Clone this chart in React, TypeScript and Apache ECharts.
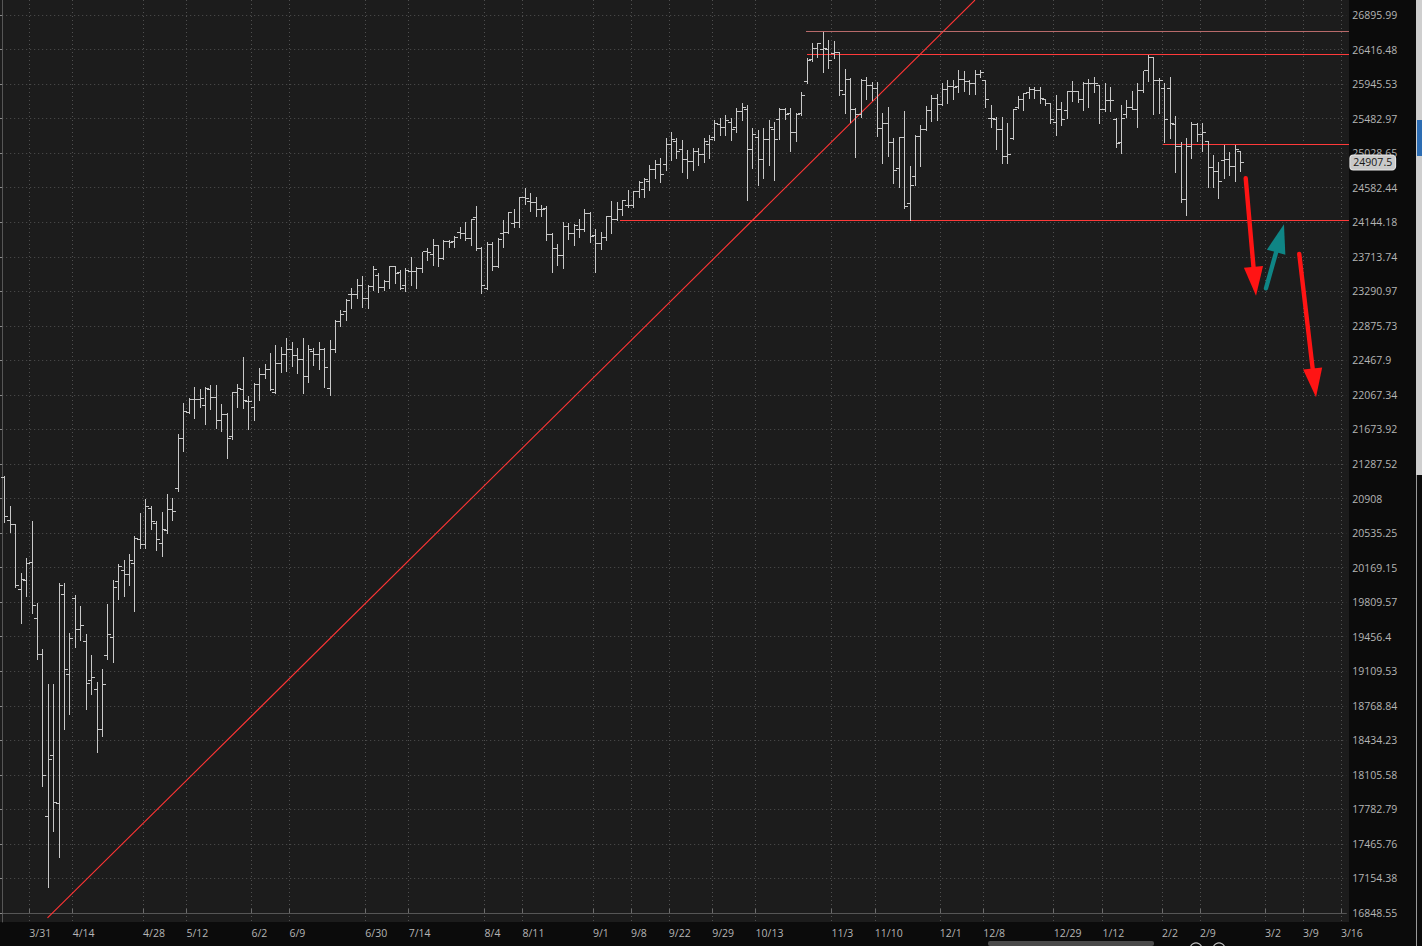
import React, { useEffect, useRef } from "react";
import * as echarts from "echarts";

// ---------- tick labels ----------
const Y_LABELS = [
  "26895.99", "26416.48", "25945.53", "25482.97", "25028.65", "24582.44", "24144.18",
  "23713.74", "23290.97", "22875.73", "22467.9", "22067.34", "21673.92", "21287.52",
  "20908", "20535.25", "20169.15", "19809.57", "19456.4", "19109.53", "18768.84",
  "18434.23", "18105.58", "17782.79", "17465.76", "17154.38", "16848.55",
];
const X_LABELS = [
  "3/31", "4/14", "4/28", "5/12", "6/2", "6/9", "6/30", "7/14", "8/4", "8/11", "9/1", "9/8",
  "9/22", "9/29", "10/13", "11/3", "11/10", "12/1", "12/8", "12/29", "1/12", "2/2", "2/9",
  "3/2", "3/9", "3/16",
];
const X_LABEL_SLOT = [
  5, 13, 26, 34, 46, 53, 67, 75, 89, 96, 109, 116, 123, 131, 139, 153, 161, 173, 181, 194,
  203, 214, 221, 233, 240, 247,
];
const SLOT_COUNT = 249;

// ---------- OHLC values ----------
const OPEN = [
  21141, 20665, 20622, 19943, 20030, 20226, 19645, 19280, 17719, 18285,
  17838, 19891, 19079, 19850, 19525, 19406, 19013, 18924, 18534, 19270,
  19450, 20022, 20144, 20102, 20215, 20462, 20409, 20802, 20633, 20427,
  20558, 20784, 21020, 21576, 21864, 22017, 22010, 21941, 22133, 22040,
  21770, 21846, 21593, 22098, 22133, 21990, 21926, 22183, 22307, 22365,
  22097, 22426, 22532, 22591, 22520, 22473, 22275, 22568, 22532, 22591,
  22147, 22591, 22922, 23042, 23247, 23255, 23364, 23198, 23347, 23479,
  23335, 23410, 23592, 23524, 23367, 23528, 23528, 23573, 23773, 23736,
  23848, 23692, 23901, 23901, 24013, 24006, 23944, 24201, 23810, 23328,
  23860, 23592, 24005, 24013, 24130, 24143, 24455, 24404, 24397, 24299,
  24312, 23993, 23819, 23724, 24088, 24006, 24047, 24050, 24260, 23984,
  23881, 23951, 24214, 24181, 24299, 24354, 24354, 24531, 24553, 24656,
  24811, 24876, 24876, 25136, 25176, 25070, 24941, 24915, 25044, 25005,
  25136, 25228, 25399, 25360, 25438, 25360, 25571, 25598, 25070, 25228,
  24941, 25202, 25333, 25465, 25598, 25551, 25298, 25545, 25978, 26273,
  26433, 26419, 26419, 26365, 26373, 25809, 26001, 25598, 25531, 25988,
  25933, 25889, 25355, 25412, 25167, 24824, 25237, 24385, 24725, 25245,
  25342, 25589, 25756, 25666, 25876, 25911, 25911, 26001, 25978, 25947,
  26070, 25992, 25478, 25465, 25342, 24983, 25224, 25634, 25733, 25831,
  25866, 25857, 25742, 25688, 25429, 25598, 25589, 25844, 25844, 25733,
  25947, 25956, 25920, 25608, 25724, 25474, 25167, 25531, 25634, 25608,
  25857, 26124, 26310, 25988, 25889, 25889, 25399, 25114, 24426, 25114,
  25399, 25268, 25176, 24846, 24789, 24935, 24941, 24854, 25048,
];
const HIGH = [
  21156, 20827, 20630, 20110, 20268, 20665, 19798, 19333, 18983, 18983,
  20006, 20006, 19498, 19884, 19771, 19484, 19273, 19000, 19132, 19791,
  20040, 20208, 20250, 20314, 20505, 20748, 20903, 20827, 20665, 20759,
  20958, 20917, 21624, 21978, 22035, 22156, 22133, 22163, 22183, 22183,
  21964, 21857, 22105, 22195, 22508, 22058, 22203, 22376, 22426, 22556,
  22650, 22626, 22733, 22686, 22615, 22733, 22650, 22615, 22686, 22615,
  22709, 22946, 23066, 23198, 23328, 23438, 23475, 23367, 23604, 23512,
  23430, 23604, 23600, 23552, 23573, 23714, 23592, 23777, 23819, 23931,
  23860, 23922, 23922, 23972, 24088, 24151, 24190, 24350, 23839, 23901,
  23901, 23944, 24172, 24277, 24307, 24460, 24582, 24511, 24460, 24363,
  24350, 24006, 23872, 24151, 24130, 24122, 24181, 24307, 24270, 24056,
  24026, 24222, 24413, 24404, 24420, 24553, 24540, 24674, 24708, 24876,
  24941, 24967, 25228, 25307, 25228, 25202, 25070, 25097, 25097, 25228,
  25268, 25464, 25491, 25531, 25491, 25625, 25692, 25665, 25360, 25333,
  25360, 25464, 25438, 25621, 25621, 25621, 25562, 25844, 26297, 26503,
  26503, 26664, 26549, 26539, 26380, 26146, 26025, 25621, 26011, 26047,
  25978, 25978, 25562, 25634, 25224, 25245, 25587, 24867, 25268, 25399,
  25652, 25800, 25813, 25956, 26001, 26001, 26138, 26128, 26001, 26138,
  26138, 26001, 25666, 25508, 25508, 25421, 25615, 25786, 25830, 25903,
  25911, 25903, 25750, 25695, 25800, 25710, 25850, 25992, 25857, 25978,
  26011, 26047, 25933, 25956, 25911, 25487, 25666, 25733, 25857, 25956,
  26128, 26341, 26314, 26025, 25965, 26047, 25517, 25180, 25224, 25442,
  25421, 25421, 25185, 25005, 24919, 25135, 25048, 25135, 25061,
];
const LOW = [
  20658, 20550, 19970, 19594, 19877, 19696, 19229, 18004, 17076, 17587,
  17350, 18541, 18686, 19356, 19423, 18735, 18881, 18320, 18479, 19236,
  19206, 19839, 19877, 19988, 19723, 20374, 20374, 20579, 20356, 20296,
  20533, 20676, 20994, 21437, 21857, 21808, 21933, 21733, 21910, 21694,
  21660, 21351, 21568, 21933, 21922, 21679, 21782, 22009, 22260, 22124,
  22090, 22333, 22345, 22403, 22322, 22089, 22217, 22415, 22368, 22159,
  22066, 22568, 22874, 22946, 23087, 23207, 23099, 23087, 23307, 23279,
  23307, 23328, 23396, 23315, 23298, 23364, 23331, 23524, 23674, 23613,
  23604, 23683, 23831, 23831, 23944, 23922, 23860, 23798, 23274, 23315,
  23552, 23585, 23831, 24005, 24088, 24088, 24375, 24290, 24223, 24223,
  23922, 23531, 23613, 23580, 23935, 23860, 23963, 24040, 23901, 23524,
  23807, 23922, 24006, 24170, 24236, 24341, 24341, 24466, 24464, 24553,
  24708, 24656, 24811, 24941, 24967, 24785, 24708, 24811, 24876, 24915,
  24967, 25202, 25268, 25268, 25202, 25307, 25464, 24426, 24837, 24618,
  24708, 24876, 24682, 25215, 25474, 25061, 25192, 25531, 25965, 26264,
  26310, 26114, 26160, 26297, 25800, 25554, 25442, 24976, 25508, 25742,
  25733, 25254, 24898, 24992, 24639, 24595, 24321, 24172, 24618, 24863,
  25333, 25455, 25465, 25659, 25688, 25742, 25844, 25857, 25813, 25813,
  26038, 25644, 25377, 25079, 24898, 24906, 25215, 25625, 25598, 25756,
  25756, 25688, 25666, 25429, 25268, 25399, 25487, 25724, 25710, 25598,
  25634, 25844, 25421, 25585, 25589, 25114, 25027, 25508, 25605, 25368,
  25844, 25992, 25545, 25554, 25179, 25230, 24789, 24405, 24234, 24962,
  25193, 25061, 24595, 24595, 24448, 24705, 24747, 24673, 24803,
];
const CLOSE = [
  20712, 20622, 19981, 20040, 20215, 19771, 19273, 18104, 18247, 17848,
  19978, 19122, 19440, 19525, 19566, 18990, 19049, 18534, 18980, 19474,
  19964, 20179, 20102, 20240, 20473, 20409, 20820, 20658, 20470, 20576,
  20784, 20766, 21576, 21876, 22017, 22010, 22025, 22145, 22040, 21770,
  21839, 21576, 22098, 22144, 22009, 21995, 22183, 22307, 22365, 22133,
  22434, 22532, 22591, 22520, 22473, 22275, 22591, 22532, 22591, 22380,
  22591, 22922, 23006, 23178, 23255, 23364, 23198, 23347, 23552, 23335,
  23410, 23592, 23512, 23328, 23540, 23535, 23573, 23773, 23764, 23848,
  23692, 23901, 23895, 23951, 24006, 23944, 24181, 23810, 23367, 23860,
  23592, 23922, 24015, 24270, 24143, 24455, 24448, 24397, 24299, 24305,
  23993, 23819, 23724, 24088, 24006, 24109, 24055, 24260, 23963, 23881,
  23951, 24214, 24181, 24299, 24413, 24360, 24531, 24643, 24682, 24811,
  24876, 24747, 25136, 25202, 25044, 24941, 24915, 25044, 25005, 25176,
  25202, 25412, 25360, 25464, 25333, 25571, 25625, 25070, 25268, 24941,
  25202, 25360, 25202, 25598, 25541, 25298, 25531, 25786, 26269, 26433,
  26493, 26425, 26264, 26373, 25853, 26001, 25598, 25531, 25988, 25933,
  25889, 25355, 25412, 25167, 24802, 25237, 24341, 24608, 25245, 25342,
  25589, 25756, 25666, 25876, 25911, 25905, 26001, 25978, 25947, 26070,
  26101, 25733, 25485, 25342, 24983, 25005, 25608, 25742, 25822, 25866,
  25857, 25756, 25688, 25474, 25598, 25465, 25844, 25840, 25733, 25947,
  25956, 25947, 25608, 25724, 25730, 25150, 25487, 25634, 25608, 25857,
  26124, 26310, 25988, 25992, 25465, 25420, 25114, 24426, 25114, 25399,
  25268, 25294, 24846, 24789, 24656, 24945, 24854, 25079, 24907.5,
];
const LAST_PRICE = 24907.5;

// ---------- drawn annotations (slot units, prices) ----------
const LEVEL_PRICE = [26663, 26351, 24169, 25145];
const LEVEL_FROM = [148.3, 148.5, 113.9, 214.2];
const TREND_X = [8.36, 179.48];
const TREND_PRICE = [16805, 27106];
const ARROW_FROM_X = [229.43, 233.17, 239.31];
const ARROW_FROM_PRICE = [24703, 23328, 23748];
const ARROW_TO_X = [231.33, 236.49, 242.4];
const ARROW_TO_PRICE = [23238, 24118, 22040];

// ---------- styles / layout ----------
const LEVEL_COLORS = ["#b86a6a", "#ff3a3a", "#ff3a3a", "#ff3a3a"];
const ARROW_COLORS = ["#ff1414", "#0f8585", "#ff1414"];
const BAR_COLOR = "#c8c8c8";
const TEXT_COLOR = "#b5b5b5";
const FONT = "'Open Sans', 'Noto Sans', sans-serif";
const W = 1422;
const H = 946;
const GRID_LEFT = 2.2;
const GRID_RIGHT_EDGE = 1346.36;
const PLOT_BOTTOM = 922;
const TOP_TICK_Y = 15;
const BOTTOM_TICK_Y = 913;

const Y_BOTTOM = Number(Y_LABELS[Y_LABELS.length - 1]);
const Y_TOP = Number(Y_LABELS[0]);
const N_STEPS = Y_LABELS.length - 1;
const K_STEP = Math.log(Y_TOP / Y_BOTTOM) / N_STEPS;
const toK = (p: number) => Math.log(p / Y_BOTTOM) / K_STEP;
const PX_PER_K = (BOTTOM_TICK_Y - TOP_TICK_Y) / N_STEPS;
const Y_MIN = -(PLOT_BOTTOM - BOTTOM_TICK_Y) / PX_PER_K;
const Y_MAX = N_STEPS + TOP_TICK_Y / PX_PER_K;
const TICK_K = Y_LABELS.map((_, i) => N_STEPS - i);

const labelAt = new Map<number, string>();
X_LABEL_SLOT.forEach((s, i) => labelAt.set(s, X_LABELS[i]));
const showSlot = (index: number) => labelAt.has(index);

export default function App() {
  const ref = useRef<HTMLDivElement>(null);

  useEffect(() => {
    if (!ref.current) return;
    const chart = echarts.init(ref.current, undefined, { renderer: "svg" });

    const ohlcData = OPEN.map((o, i) => [i + 0.5, toK(o), toK(HIGH[i]), toK(LOW[i]), toK(CLOSE[i])]);
    const levelData = LEVEL_PRICE.map((p, i) => [LEVEL_FROM[i], toK(p), SLOT_COUNT - 0.5, i]);
    const arrowData = ARROW_FROM_X.map((x, i) => [
      x, toK(ARROW_FROM_PRICE[i]), ARROW_TO_X[i], toK(ARROW_TO_PRICE[i]), i,
    ]);

    const dotted = { color: "#505050", width: 1, type: [1, 3] as any };

    chart.setOption({
      animation: false,
      backgroundColor: "#0b0b0b",
      textStyle: { fontFamily: FONT },
      grid: {
        left: GRID_LEFT,
        right: W - GRID_RIGHT_EDGE,
        top: 0,
        bottom: H - PLOT_BOTTOM,
        containLabel: false,
      },
      xAxis: [
        {
          type: "category",
          boundaryGap: false,
          data: Array.from({ length: SLOT_COUNT }, (_, i) => String(i)),
          axisLine: { show: true, lineStyle: { color: "#565656", width: 1 } },
          axisTick: {
            show: true,
            inside: true,
            length: 4,
            interval: (i: number) => showSlot(i),
            lineStyle: { color: "#6a6a6a" },
          },
          axisLabel: {
            show: true,
            interval: (i: number) => showSlot(i),
            formatter: (_v: string, i: number) => labelAt.get(i) || "",
            color: TEXT_COLOR,
            fontSize: 10.5,
            fontFamily: FONT,
            align: "left",
            margin: 5,
          },
          splitLine: {
            show: true,
            interval: (i: number) => showSlot(i),
            lineStyle: dotted,
          },
        },
        {
          type: "value",
          min: 0,
          max: SLOT_COUNT - 1,
          show: false,
        },
      ],
      yAxis: {
        type: "value",
        position: "right",
        offset: 3,
        min: Y_MIN,
        max: Y_MAX,
        axisLine: { show: true, lineStyle: { color: "#565656" } },
        axisTick: {
          show: true,
          inside: true,
          length: 3,
          customValues: TICK_K,
          lineStyle: { color: "#8a8a8a" },
        },
        axisLabel: {
          show: true,
          customValues: TICK_K,
          formatter: (v: number) => Y_LABELS[N_STEPS - Math.round(v)],
          color: TEXT_COLOR,
          fontSize: 10.5,
          fontFamily: FONT,
          margin: 3,
        },
        splitLine: { show: true, lineStyle: dotted },
      },
      graphic: [
        { type: "rect", silent: true, z: -100, shape: { x: 0, y: 0, width: 1349, height: PLOT_BOTTOM }, style: { fill: "#1c1c1c" } },
        { type: "rect", silent: true, z: 50, shape: { x: 1416, y: 0, width: 6, height: 475 }, style: { fill: "#cfcfcf" } },
        { type: "rect", silent: true, z: 51, shape: { x: 1417, y: 120, width: 5, height: 36 }, style: { fill: "#2d6db3" } },
        { type: "rect", silent: true, z: 50, shape: { x: 1416, y: 475, width: 1, height: 471 }, style: { fill: "#9a9a9a" } },
        { type: "rect", silent: true, z: 50, shape: { x: 988, y: 941, width: 166, height: 5, r: 2 }, style: { fill: "#4a4a4a" } },
        { type: "circle", silent: true, z: 50, shape: { cx: 1196, cy: 949, r: 6 }, style: { fill: "none", stroke: "#bdbdbd", lineWidth: 1.2 } },
        { type: "circle", silent: true, z: 50, shape: { cx: 1219, cy: 949, r: 6 }, style: { fill: "none", stroke: "#bdbdbd", lineWidth: 1.2 } },
      ],
      series: [
        {
          type: "line",
          xAxisIndex: 1,
          yAxisIndex: 0,
          data: TREND_X.map((x, i) => [x, toK(TREND_PRICE[i])]),
          symbol: "none",
          clip: true,
          lineStyle: { color: "#ff3535", width: 1.1 },
          z: 3,
          silent: true,
        },
        {
          type: "custom",
          xAxisIndex: 1,
          yAxisIndex: 0,
          data: levelData,
          encode: { x: [0, 2], y: 1 },
          silent: true,
          z: 4,
          renderItem: (_params: any, api: any) => {
            const a = api.coord([api.value(0), api.value(1)]);
            const b = api.coord([api.value(2), api.value(1)]);
            const idx = api.value(3);
            return {
              type: "rect",
              shape: { x: Math.round(a[0]), y: Math.round(a[1] - 0.5), width: Math.round(b[0]) - Math.round(a[0]), height: 1 },
              style: { fill: LEVEL_COLORS[idx] },
            };
          },
          markLine: {
            silent: true,
            symbol: ["none", "none"],
            z: 20,
            lineStyle: { color: "rgba(0,0,0,0)", width: 0 },
            emphasis: { disabled: true },
            data: [{ yAxis: toK(LAST_PRICE) }],
            label: {
              show: true,
              position: "end",
              distance: 4,
              formatter: String(LAST_PRICE),
              backgroundColor: "#c9c9c9",
              borderColor: "#e6e6e6",
              borderWidth: 1,
              borderRadius: 3,
              padding: [2, 3, 1, 3],
              color: "#161616",
              fontSize: 10.5,
              fontFamily: FONT,
              opacity: 1,
            },
          },
        },
        {
          type: "custom",
          xAxisIndex: 1,
          yAxisIndex: 0,
          data: ohlcData,
          encode: { x: 0, y: [1, 2, 3, 4] },
          silent: true,
          z: 5,
          renderItem: (_params: any, api: any) => {
            const x = api.value(0);
            const pO = api.coord([x, api.value(1)]);
            const pH = api.coord([x, api.value(2)]);
            const pL = api.coord([x, api.value(3)]);
            const pC = api.coord([x, api.value(4)]);
            const cx = Math.round(pH[0] - 0.5);
            const yH = Math.round(pH[1]);
            const yL = Math.round(pL[1]);
            const yO = Math.round(pO[1] - 0.5);
            const yC = Math.round(pC[1] - 0.5);
            const style = { fill: BAR_COLOR };
            return {
              type: "group",
              children: [
                { type: "rect", shape: { x: cx, y: yH, width: 1, height: Math.max(1, yL - yH + 1) }, style },
                { type: "rect", shape: { x: cx - 3, y: yO, width: 3, height: 1 }, style },
                { type: "rect", shape: { x: cx + 1, y: yC, width: 3, height: 1 }, style },
              ],
            };
          },
        },
        {
          type: "custom",
          xAxisIndex: 1,
          yAxisIndex: 0,
          data: arrowData,
          encode: { x: [0, 2], y: [1, 3] },
          silent: true,
          z: 6,
          renderItem: (_params: any, api: any) => {
            const p0 = api.coord([api.value(0), api.value(1)]);
            const p1 = api.coord([api.value(2), api.value(3)]);
            const color = ARROW_COLORS[api.value(4)];
            const dx = p1[0] - p0[0];
            const dy = p1[1] - p0[1];
            const len = Math.sqrt(dx * dx + dy * dy) || 1;
            const ux = dx / len;
            const uy = dy / len;
            const headLen = 29;
            const halfW = 9.6;
            const bx = p1[0] - ux * headLen;
            const by = p1[1] - uy * headLen;
            const px = -uy;
            const py = ux;
            return {
              type: "group",
              children: [
                {
                  type: "line",
                  shape: { x1: p0[0], y1: p0[1], x2: bx + ux * 2, y2: by + uy * 2 },
                  style: { stroke: color, lineWidth: 4.4, lineCap: "round" },
                },
                {
                  type: "polygon",
                  shape: {
                    points: [
                      [p1[0], p1[1]],
                      [bx + px * halfW, by + py * halfW],
                      [bx - px * halfW, by - py * halfW],
                    ],
                  },
                  style: { fill: color },
                },
              ],
            };
          },
        },
      ],
    });

    return () => chart.dispose();
  }, []);

  return (
    <div
      ref={ref}
      style={{ position: "fixed", left: 0, top: 0, width: W, height: H }}
    />
  );
}
